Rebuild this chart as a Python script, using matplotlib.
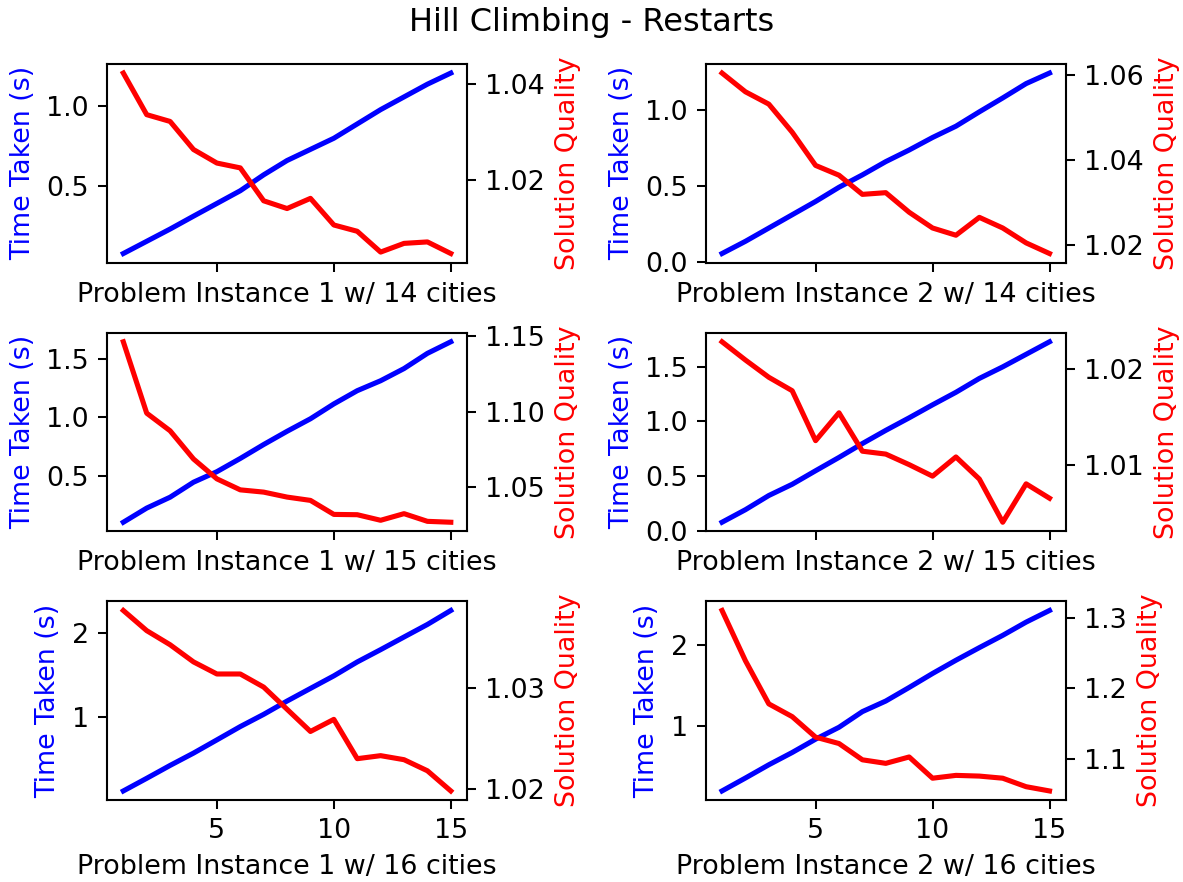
import matplotlib
matplotlib.use("Agg")
import matplotlib.pyplot as plt
from matplotlib.ticker import MultipleLocator

runs = [1, 2, 3, 4, 5, 6, 7, 8, 9, 10, 11, 12, 13, 14, 15]

titles = [
    "Problem Instance 1 w/ 14 cities", "Problem Instance 2 w/ 14 cities",
    "Problem Instance 1 w/ 15 cities", "Problem Instance 2 w/ 15 cities",
    "Problem Instance 1 w/ 16 cities", "Problem Instance 2 w/ 16 cities",
]

# time taken (s) per number of restarts
time_1_14 = [0.075, 0.152, 0.229, 0.31, 0.39, 0.47, 0.57, 0.66, 0.73, 0.80, 0.89, 0.98, 1.06, 1.14, 1.21]
time_2_14 = [0.057, 0.137, 0.224, 0.311, 0.398, 0.491, 0.572, 0.659, 0.735, 0.817, 0.891, 0.985, 1.076, 1.170, 1.239]
time_1_15 = [0.102, 0.223, 0.316, 0.444, 0.534, 0.647, 0.766, 0.879, 0.986, 1.113, 1.226, 1.311, 1.415, 1.545, 1.644]
time_2_15 = [0.076, 0.191, 0.321, 0.424, 0.548, 0.670, 0.797, 0.918, 1.033, 1.152, 1.267, 1.394, 1.500, 1.615, 1.730]
time_1_16 = [0.126, 0.276, 0.429, 0.575, 0.732, 0.890, 1.035, 1.193, 1.343, 1.492, 1.657, 1.803, 1.953, 2.102, 2.268]
time_2_16 = [0.186, 0.347, 0.512, 0.665, 0.831, 0.979, 1.174, 1.306, 1.475, 1.649, 1.814, 1.971, 2.124, 2.289, 2.434]

# solution quality (ratio to best known)
qual_1_14 = [1.0422, 1.0336, 1.0322, 1.0264, 1.0236, 1.0226, 1.0158, 1.0142, 1.0163, 1.0108, 1.0095, 1.0052, 1.0070, 1.0073, 1.0049]
qual_2_14 = [1.0605, 1.0561, 1.0532, 1.0466, 1.0388, 1.0365, 1.0320, 1.0324, 1.0278, 1.0241, 1.0224, 1.0266, 1.0241, 1.0206, 1.0181]
qual_1_15 = [1.1465, 1.0991, 1.0874, 1.0687, 1.0555, 1.0482, 1.0467, 1.0434, 1.0412, 1.0319, 1.0317, 1.0280, 1.0324, 1.0273, 1.0267]
qual_2_15 = [1.0228, 1.0209, 1.0191, 1.0177, 1.0125, 1.0154, 1.0114, 1.0111, 1.0100, 1.0088, 1.0108, 1.0085, 1.0040, 1.0080, 1.0065]
qual_1_16 = [1.0377, 1.0357, 1.0343, 1.0326, 1.0314, 1.0314, 1.0301, 1.0279, 1.0257, 1.0269, 1.0230, 1.0233, 1.0229, 1.0218, 1.0198]
qual_2_16 = [1.310, 1.239, 1.178, 1.160, 1.131, 1.122, 1.099, 1.094, 1.103, 1.073, 1.077, 1.076, 1.073, 1.061, 1.055]

times = [time_1_14, time_2_14, time_1_15, time_2_15, time_1_16, time_2_16]
quals = [qual_1_14, qual_2_14, qual_1_15, qual_2_15, qual_1_16, qual_2_16]

plt.rcParams["font.size"] = 10.5

dpi = 184
fig, axes = plt.subplots(3, 2, figsize=(1183 / dpi, 882 / dpi), dpi=dpi, sharex=True)
fig.suptitle("Hill Climbing - Restarts", fontsize=12.5, y=0.992)

for i, (ax, title, t, q) in enumerate(zip(axes.flat, titles, times, quals)):
    ax.plot(runs, t, color="b", linewidth=2)
    ax.set_xlabel(title)
    ax.set_ylabel("Time Taken (s)", color="b")
    ax.xaxis.set_tick_params(labelbottom=i >= 4)
    # half-second steps on the upper rows, whole seconds on the bottom row
    ax.yaxis.set_major_locator(MultipleLocator(1.0 if i >= 4 else 0.5))

    ax2 = ax.twinx()
    ax2.plot(runs, q, color="r", linewidth=2)
    ax2.set_ylabel("Solution Quality", color="r")

fig.subplots_adjust(left=0.0904, right=0.901, top=0.9274, bottom=0.093,
                    wspace=0.662, hspace=0.3535)
fig.savefig("out.png", dpi=dpi)
